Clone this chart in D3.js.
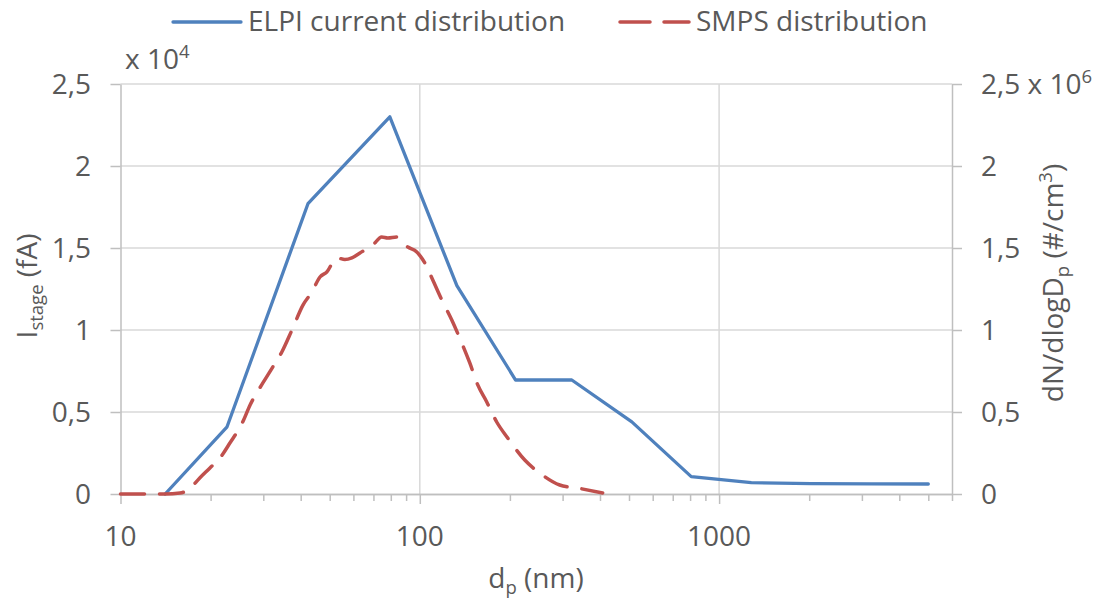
<!DOCTYPE html>
<html><head><meta charset="utf-8">
<script src="https://cdn.jsdelivr.net/npm/d3@7"></script>
<style>
body{margin:0;background:#fff;}
text{font-family:"Open Sans",sans-serif;fill:#595959;}
</style>
</head><body>
<svg id="c" width="1104" height="603"></svg>
<script>
// ELPI current distribution (left axis, fA)
const elpiD = [14.1, 22.7, 42.3, 79.4, 133, 209, 322, 511, 807, 1281, 2030, 3220, 5000];
const elpiI = [0, 4100, 17700, 23000, 12700, 6950, 6950, 4400, 1060, 690, 630, 615, 610];

// SMPS distribution (right axis, #/cm3)
const smpsD = [10.0, 12.5, 14.1, 15.8, 16.8, 18.4, 19.9, 21.5, 23.2, 25.6, 27.1, 29.9, 32.1, 34.6, 37.4, 40.7, 43.6, 46.4, 48.9, 52.8, 56.2, 59.3, 63.1, 69.7, 74.6, 78.2, 83.8, 91.2, 97.7, 103.9, 110.5, 118.5, 127.9, 138.1, 146.9, 156.2, 167.4, 180.7, 196.7, 224.2, 251.6, 293.4, 334.4, 408.3];
const smpsN = [0, 0, 0, 6000, 24000, 98000, 159000, 220000, 311000, 439000, 543000, 677000, 768000, 866000, 1000000, 1152000, 1232000, 1323000, 1354000, 1440000, 1430000, 1440000, 1470000, 1518000, 1567000, 1561000, 1567000, 1506000, 1476000, 1409000, 1305000, 1183000, 1061000, 921000, 799000, 665000, 561000, 439000, 341000, 207000, 128000, 55000, 37000, 6000];

const xDomain = [10, 6000];
const xMajor = [10, 100, 1000];
const xMajorLabels = ["10", "100", "1000"];
const xMinor = [20,30,40,50,60,70,80,90,200,300,400,500,600,700,800,900,2000,3000,4000,5000,6000];
const yLeftTicks = [0, 5000, 10000, 15000, 20000, 25000];
const yRightTicks = [0, 500000, 1000000, 1500000, 2000000, 2500000];
const yTickLabels = ["0", "0,5", "1", "1,5", "2", "2,5"];
const seriesNames = ["ELPI current distribution", "SMPS distribution"];
const colors = {elpi: "#4f81bd", smps: "#c0504d", grid: "#d9d9d9", axis: "#bfbfbf"};

const FS = 28, SS = 18.5;
const L = 120.5, R = 952, T = 84, B = 494;
const x = d3.scaleLog().domain(xDomain).range([L, R]);
const yL = d3.scaleLinear().domain([0, 25000]).range([B, T]);
const yR = d3.scaleLinear().domain([0, 2500000]).range([B, T]);

const svg = d3.select("#c");

// horizontal gridlines
svg.append("g").selectAll("line").data(yLeftTicks.slice(1)).join("line")
  .attr("x1", L).attr("x2", R).attr("y1", d => yL(d)).attr("y2", d => yL(d))
  .attr("stroke", colors.grid).attr("stroke-width", 1.5);
// vertical gridlines at majors
svg.append("g").selectAll("line").data(xMajor.slice(1)).join("line")
  .attr("x1", d => x(d)).attr("x2", d => x(d)).attr("y1", T).attr("y2", B)
  .attr("stroke", colors.grid).attr("stroke-width", 1.5);

function styleAxis(g) {
  g.select(".domain").attr("stroke", colors.axis).attr("stroke-width", 1.5);
  g.selectAll(".tick line").attr("stroke", colors.axis).attr("stroke-width", 1.5);
  g.selectAll("text").remove();
}

// x axis: minor ticks then major
svg.append("g").attr("transform", `translate(0,${B})`)
  .call(d3.axisBottom(x).tickValues(xMinor).tickSize(7).tickSizeOuter(0).tickFormat(""))
  .call(styleAxis);
svg.append("g").attr("transform", `translate(0,${B})`)
  .call(d3.axisBottom(x).tickValues(xMajor).tickSize(10).tickSizeOuter(0).tickFormat(""))
  .call(styleAxis);
svg.append("g").selectAll("text").data(xMajor).join("text")
  .attr("x", d => x(d)).attr("y", 546).attr("text-anchor", "middle")
  .attr("font-size", FS).text((d, i) => xMajorLabels[i]);

// left axis
svg.append("g").attr("transform", `translate(${L},0)`)
  .call(d3.axisLeft(yL).tickValues(yLeftTicks).tickSize(10).tickSizeOuter(0).tickFormat(""))
  .call(styleAxis);
svg.append("g").selectAll("text").data(yLeftTicks).join("text")
  .attr("x", 91).attr("y", d => yL(d) + 10).attr("text-anchor", "end")
  .attr("font-size", FS).text((d, i) => yTickLabels[i]);

// right axis
svg.append("g").attr("transform", `translate(${R},0)`)
  .call(d3.axisRight(yR).tickValues(yRightTicks).tickSize(10).tickSizeOuter(0).tickFormat(""))
  .call(styleAxis);
const rt = svg.append("g").selectAll("text").data(yRightTicks).join("text")
  .attr("x", 981).attr("y", d => yR(d) + 10).attr("text-anchor", "start")
  .attr("font-size", FS);
rt.each(function(d, i) {
  const t = d3.select(this);
  t.append("tspan").text(yTickLabels[i]);
  if (i === yRightTicks.length - 1) {
    t.append("tspan").text(" x 10");
    t.append("tspan").attr("font-size", SS).attr("dy", -11).text("6");
  }
});

// x 10^4 label
const m4 = svg.append("text").attr("x", 125).attr("y", 69).attr("font-size", FS);
m4.append("tspan").text("x 10");
m4.append("tspan").attr("font-size", SS).attr("dy", -11).text("4");

// axis titles
const xt = svg.append("text").attr("x", 536).attr("y", 588).attr("text-anchor", "middle").attr("font-size", FS);
xt.append("tspan").text("d");
xt.append("tspan").attr("font-size", SS).attr("dy", 6).text("p");
xt.append("tspan").attr("dy", -6).text(" (nm)");

const yt = svg.append("text").attr("transform", "translate(37,286) rotate(-90)").attr("text-anchor", "middle").attr("font-size", FS);
yt.append("tspan").text("I");
yt.append("tspan").attr("font-size", SS).attr("dy", 6).text("stage");
yt.append("tspan").attr("dy", -6).text(" (fA)");

const yt2 = svg.append("text").attr("transform", "translate(1063,283) rotate(-90)").attr("text-anchor", "middle").attr("font-size", FS);
yt2.append("tspan").text("dN/dlogD");
yt2.append("tspan").attr("font-size", SS).attr("dy", 6).text("p");
yt2.append("tspan").attr("dy", -6).text(" (#/cm");
yt2.append("tspan").attr("font-size", SS).attr("dy", -11).text("3");
yt2.append("tspan").attr("dy", 11).text(")");

// lines
const lineE = d3.line().x((d, i) => x(elpiD[i])).y(d => yL(d));
svg.append("path").datum(elpiI).attr("d", lineE)
  .attr("fill", "none").attr("stroke", colors.elpi).attr("stroke-width", 3.3)
  .attr("stroke-linejoin", "round").attr("stroke-linecap", "round");

const lineS = d3.line().x((d, i) => x(smpsD[i])).y(d => yR(d)).curve(d3.curveMonotoneX);
svg.append("path").datum(smpsN).attr("d", lineS)
  .attr("fill", "none").attr("stroke", colors.smps).attr("stroke-width", 3.5)
  .attr("stroke-dasharray", "24,15").attr("stroke-linejoin", "round").attr("stroke-linecap", "round");

// legend
const lg = svg.append("g");
lg.append("line").attr("x1", 173).attr("x2", 241).attr("y1", 22).attr("y2", 22)
  .attr("stroke", colors.elpi).attr("stroke-width", 3.3).attr("stroke-linecap", "round");
lg.append("text").attr("x", 248).attr("y", 31).attr("font-size", FS).text(seriesNames[0]);
lg.append("line").attr("x1", 620).attr("x2", 689).attr("y1", 22).attr("y2", 22)
  .attr("stroke", colors.smps).attr("stroke-width", 3.5).attr("stroke-linecap", "round")
  .attr("stroke-dasharray", "30,14");
lg.append("text").attr("x", 696).attr("y", 31).attr("font-size", FS).text(seriesNames[1]);
</script>
</body></html>
